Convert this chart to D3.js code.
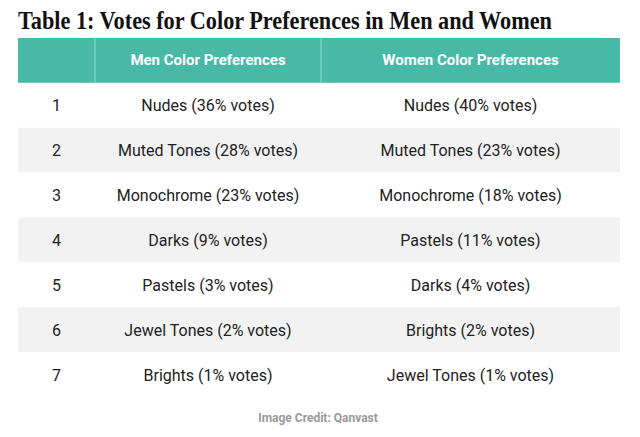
<!DOCTYPE html>
<html><head><meta charset="utf-8">
<script src="https://cdn.jsdelivr.net/npm/d3@7"></script>
<style>body{margin:0;background:#fff}</style>
</head><body><div id="main"></div>
<script>
const w = 640, h = 437;
const ranks = ['1','2','3','4','5','6','7'];
const menColors = ['Nudes','Muted Tones','Monochrome','Darks','Pastels','Jewel Tones','Brights'];
const menVotes = [36,28,23,9,3,2,1];
const womenColors = ['Nudes','Muted Tones','Monochrome','Pastels','Darks','Brights','Jewel Tones'];
const womenVotes = [40,23,18,11,4,2,1];
const headers = ['','Men Color Preferences','Women Color Preferences'];

const svg = d3.select('#main').append('svg').attr('width',w).attr('height',h);

svg.append('text').text('Table 1: Votes for Color Preferences in Men and Women')
   .attr('x',18).attr('y',29)
   .attr('font-family','Liberation Serif').attr('font-weight','bold')
   .attr('font-size',25).attr('textLength',534).attr('lengthAdjust','spacingAndGlyphs')
   .attr('fill','#111');

const colEdges = [18,95,321,620];
const y = d3.scaleBand().domain(['h'].concat(ranks)).range([38,397]);

// header
svg.append('rect').attr('x',18).attr('y',y('h')).attr('width',602).attr('height',y.bandwidth()).attr('fill','#48b9a7');
[95,321].forEach(x=>svg.append('line').attr('x1',x).attr('x2',x).attr('y1',y('h')).attr('y2',y('h')+y.bandwidth()).attr('stroke','#9ad9cd').attr('stroke-width',1));
headers.forEach((t,i)=>svg.append('text').text(t)
   .attr('x',(colEdges[i]+colEdges[i+1])/2).attr('y',y('h')+y.bandwidth()/2+5)
   .attr('text-anchor','middle').attr('font-family','Roboto').attr('font-weight','bold')
   .attr('font-size',15).attr('fill','#fff'));

const rows = svg.selectAll('g.row').data(ranks).enter().append('g').attr('class','row')
   .attr('transform',d=>`translate(0,${y(d)})`);
rows.append('rect').attr('x',18).attr('width',602).attr('height',y.bandwidth())
   .attr('fill',(d,i)=>i%2?'#f2f2f2':'#fff');
rows.each(function(d,i){
  const cells = [d, `${menColors[i]} (${menVotes[i]}% votes)`, `${womenColors[i]} (${womenVotes[i]}% votes)`];
  cells.forEach((t,j)=>d3.select(this).append('text').text(t)
     .attr('x',(colEdges[j]+colEdges[j+1])/2).attr('y',y.bandwidth()/2+6)
     .attr('text-anchor','middle').attr('font-family','Roboto')
     .attr('font-size',16).attr('fill','#222'));
});

svg.append('text').text('Image Credit: Qanvast').attr('x',318).attr('y',422)
   .attr('text-anchor','middle').attr('font-family','Roboto').attr('font-weight','bold')
   .attr('font-size',12).attr('fill','#999');
</script></body></html>
